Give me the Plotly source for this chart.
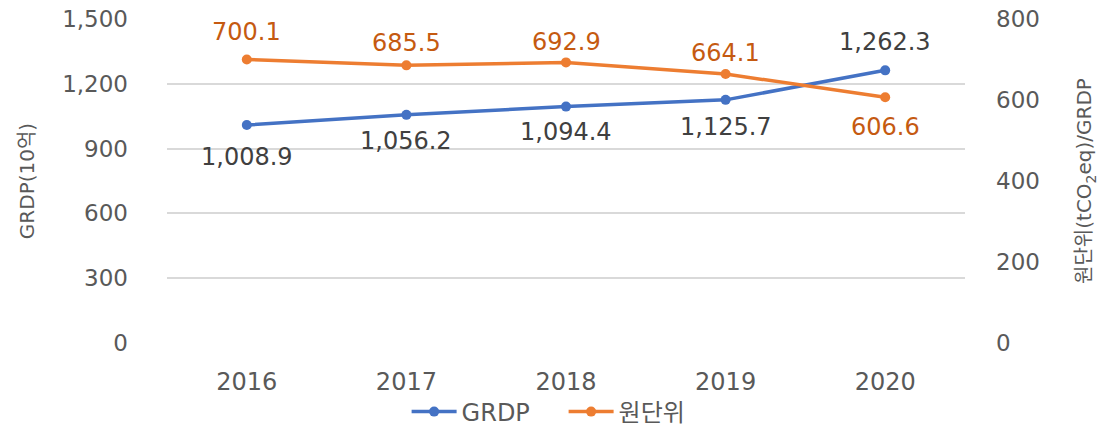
import plotly.graph_objects as go

years = ["2016", "2017", "2018", "2019", "2020"]
grdp = [1008.9, 1056.2, 1094.4, 1125.7, 1262.3]
intensity = [700.1, 685.5, 692.9, 664.1, 606.6]

grdp_ticks = [0, 300, 600, 900, 1200, 1500]
intensity_ticks = [0, 200, 400, 600, 800]

# vertical label offsets (px) relative to each point
grdp_label_shift = [-32, -26, -25, -27, 28]
intensity_label_shift = [27, 22, 20, 21, -30]

BLUE = "#4472C4"
ORANGE = "#ED7D31"
FONT = "DejaVu Sans, Noto Sans CJK KR, sans-serif"
TICK_COLOR = "#595959"

fig = go.Figure()
fig.add_trace(go.Scatter(
    x=years, y=grdp, name="GRDP", mode="lines+markers",
    line=dict(color=BLUE, width=3.5), marker=dict(size=10, color=BLUE),
    yaxis="y",
))
fig.add_trace(go.Scatter(
    x=years, y=intensity, name="원단위", mode="lines+markers",
    line=dict(color=ORANGE, width=3.5), marker=dict(size=10, color=ORANGE),
    yaxis="y2",
))

annotations = []
for i, (v, s) in enumerate(zip(grdp, grdp_label_shift)):
    annotations.append(dict(
        x=i, y=v, xref="x", yref="y", text=f"{v:,.1f}", showarrow=False,
        yshift=s, font=dict(family=FONT, size=24, color="#404040"),
    ))
for i, (v, s) in enumerate(zip(intensity, intensity_label_shift)):
    annotations.append(dict(
        x=i, y=v, xref="x", yref="y2", text=f"{v:,.1f}", showarrow=False,
        yshift=s, font=dict(family=FONT, size=24, color="#C55A11"),
    ))

fig.update_layout(
    width=1107, height=431,
    margin=dict(l=167, r=142, t=19, b=88, autoexpand=False),
    paper_bgcolor="white", plot_bgcolor="white",
    font=dict(family=FONT, color=TICK_COLOR, size=22),
    showlegend=True,
    legend=dict(
        orientation="h", x=0.497, xanchor="center", y=-0.213, yanchor="middle",
        font=dict(size=24, color=TICK_COLOR), itemwidth=45,
        entrywidth=97, entrywidthmode="pixels",
    ),
    xaxis=dict(
        type="category", range=[-0.5, 4.5], showgrid=False, zeroline=False,
        showline=False, ticks="", tickfont=dict(size=24, color=TICK_COLOR),
        ticklabelstandoff=22, automargin=False,
    ),
    yaxis=dict(
        range=[0, 1500], tickvals=grdp_ticks, tickformat=",",
        showgrid=True, gridcolor="#D9D9D9", gridwidth=1.5,
        zeroline=False, showline=False, ticks="", automargin=False,
        ticklabelstandoff=38, tickfont=dict(size=23, color=TICK_COLOR),
        title=dict(text="GRDP(10억)", font=dict(size=20, color=TICK_COLOR), standoff=22),
    ),
    yaxis2=dict(
        range=[0, 800], tickvals=intensity_ticks, overlaying="y", side="right",
        showgrid=False, zeroline=False, showline=False, ticks="", automargin=False,
        ticklabelstandoff=30, tickfont=dict(size=23, color=TICK_COLOR),
        title=dict(text="원단위(tCO<sub>2</sub>eq)/GRDP",
                   font=dict(size=20, color=TICK_COLOR), standoff=38),
    ),
    annotations=annotations,
)

fig.write_html("out.html")
